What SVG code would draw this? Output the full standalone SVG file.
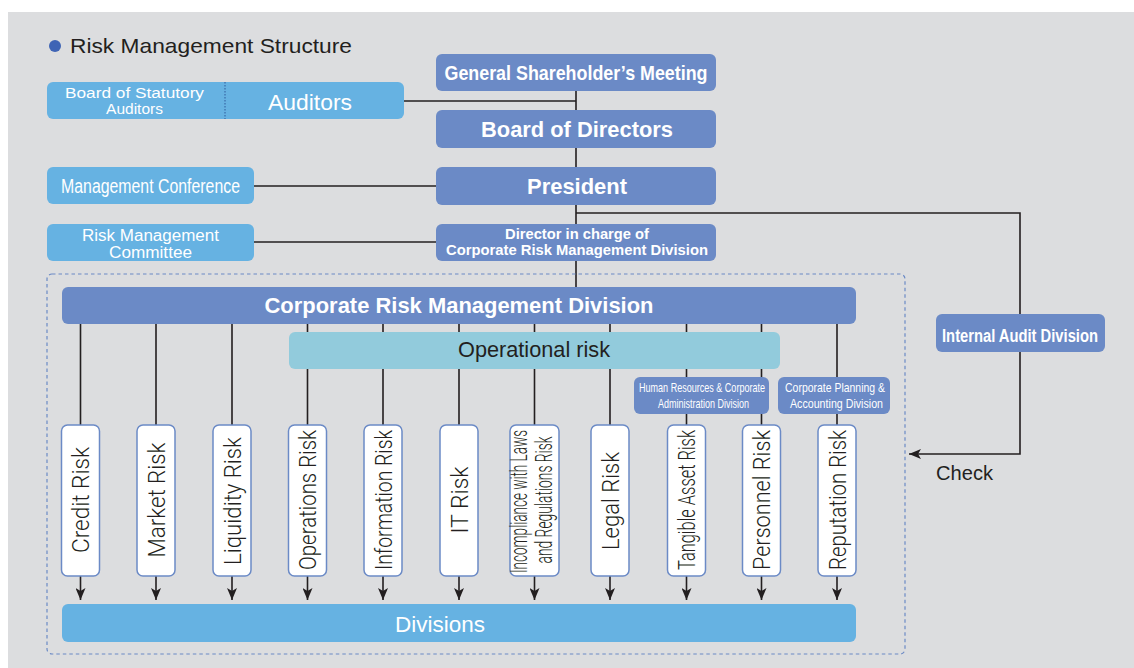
<svg xmlns="http://www.w3.org/2000/svg" width="1134" height="668" viewBox="0 0 1134 668">
<defs>
<style>
.dk{fill:#6b8ac6}
.lt{fill:#66b2e2}
.op{fill:#92cbdc}
.rb{fill:#ffffff;stroke:#6b8ac6;stroke-width:1.5}
.ln{stroke:#231f20;stroke-width:1.6;fill:none}
.ar{stroke:#231f20;stroke-width:1.6;fill:none;marker-end:url(#ah)}
.w{fill:#ffffff;font-family:"Liberation Sans",Arial,sans-serif}
.b{font-weight:bold}
.k{fill:#231f20;font-family:"Liberation Sans",Arial,sans-serif}
.v{fill:#231f20;font-family:Roboto,"Liberation Sans",Arial,sans-serif;font-weight:300;font-size:23px;text-anchor:middle}
.m{text-anchor:middle}
</style>
<marker id="ah" markerUnits="userSpaceOnUse" markerWidth="12" markerHeight="10" refX="12" refY="5" orient="auto">
<path d="M0,0 L12,5 L0,10 L3,5 z" fill="#231f20"/>
</marker>
</defs>
<rect x="0" y="0" width="1134" height="668" fill="#ffffff"/>
<rect x="8" y="12" width="1126" height="656" fill="#dcdddf"/>

<g id="title">
<circle cx="55" cy="46" r="6" fill="#3f64b5"/>
<text class="k" x="70" y="53" font-size="21" textLength="282" lengthAdjust="spacingAndGlyphs">Risk Management Structure</text>
</g>

<g id="connectors">
<path class="ln" d="M576,91 V110 M576,148 V167 M576,205 V224 M576,261 V287"/>
<path class="ln" d="M404,101 H576"/>
<path class="ln" d="M254,186 H436"/>
<path class="ln" d="M254,242 H436"/>
<path class="ln" d="M576,213 H1020 V314"/>
<path class="ar" d="M1020,352 V454 H909"/>
<path class="ln" d="M80.5,324 V425 M156,324 V425 M232,324 V425"/>
<path class="ln" d="M307.5,324 V332 M307.5,369 V425 M383,324 V332 M383,369 V425 M459,324 V332 M459,369 V425 M534.5,324 V332 M534.5,369 V425 M610,324 V332 M610,369 V425"/>
<path class="ln" d="M686.5,324 V332 M686.5,369 V377 M686.5,414 V425 M761.5,324 V332 M761.5,369 V377 M761.5,414 V425"/>
<path class="ln" d="M837,324 V377 M837,414 V425"/>
<path class="ar" d="M80.5,576 V600"/>
<path class="ar" d="M156,576 V600"/>
<path class="ar" d="M232,576 V600"/>
<path class="ar" d="M307.5,576 V600"/>
<path class="ar" d="M383,576 V600"/>
<path class="ar" d="M459,576 V600"/>
<path class="ar" d="M534.5,576 V600"/>
<path class="ar" d="M610,576 V600"/>
<path class="ar" d="M686.5,576 V600"/>
<path class="ar" d="M761.5,576 V600"/>
<path class="ar" d="M837,576 V600"/>
</g>

<g id="container">
<rect x="47" y="274" width="858" height="380" rx="5" fill="none" stroke="#6b8ac6" stroke-width="1.2" stroke-dasharray="3.5,3"/>
</g>

<g id="auditors">
<rect class="lt" x="47" y="82" width="357" height="37" rx="6"/>
<line x1="225" y1="82" x2="225" y2="119" stroke="#2f5a9a" stroke-width="1" stroke-dasharray="1.5,1.5"/>
<text class="w m" x="134.5" y="98" font-size="15.5" textLength="139" lengthAdjust="spacingAndGlyphs">Board of Statutory</text>
<text class="w m" x="134.5" y="114" font-size="15.5">Auditors</text>
<text class="w m" x="310" y="110" font-size="21.5" textLength="84" lengthAdjust="spacingAndGlyphs">Auditors</text>
</g>

<g id="gsm">
<rect class="dk" x="436" y="54" width="280" height="37" rx="6"/>
<text class="w b m" transform="translate(576,80) scale(0.893,1)" font-size="20" textLength="294.5" lengthAdjust="spacingAndGlyphs">General Shareholder’s Meeting</text>
</g>

<g id="bod">
<rect class="dk" x="436" y="110" width="280" height="38" rx="6"/>
<text class="w b m" x="577" y="137" font-size="22" textLength="192" lengthAdjust="spacingAndGlyphs">Board of Directors</text>
</g>

<g id="president">
<rect class="dk" x="436" y="167" width="280" height="38" rx="6"/>
<text class="w b m" x="577" y="194" font-size="22" textLength="100" lengthAdjust="spacingAndGlyphs">President</text>
</g>

<g id="director">
<rect class="dk" x="436" y="224" width="280" height="37" rx="6"/>
<text class="w b m" x="577" y="239" font-size="15" textLength="144" lengthAdjust="spacingAndGlyphs">Director in charge of</text>
<text class="w b m" x="577" y="255" font-size="15" textLength="262" lengthAdjust="spacingAndGlyphs">Corporate Risk Management Division</text>
</g>

<g id="mgmt-conf">
<rect class="lt" x="47" y="167" width="207" height="37" rx="6"/>
<text class="w m" transform="translate(150.5,193) scale(0.755,1)" font-size="21" textLength="237" lengthAdjust="spacingAndGlyphs">Management Conference</text>
</g>

<g id="risk-committee">
<rect class="lt" x="47" y="224" width="207" height="37" rx="6"/>
<text class="w m" x="150.5" y="241" font-size="16" textLength="137" lengthAdjust="spacingAndGlyphs">Risk Management</text>
<text class="w m" x="150.5" y="258" font-size="16" textLength="83" lengthAdjust="spacingAndGlyphs">Committee</text>
</g>

<g id="internal-audit">
<rect class="dk" x="936" y="314" width="169" height="38" rx="6"/>
<text class="w b m" transform="translate(1020,342) scale(0.774,1)" font-size="19" textLength="201.5" lengthAdjust="spacingAndGlyphs">Internal Audit Division</text>
</g>

<g id="check">
<text class="k" x="936" y="480" font-size="20" textLength="57" lengthAdjust="spacingAndGlyphs">Check</text>
</g>

<g id="crmd">
<rect class="dk" x="62" y="287" width="794" height="37" rx="6"/>
<text class="w b m" x="459" y="313" font-size="22" textLength="389" lengthAdjust="spacingAndGlyphs">Corporate Risk Management Division</text>
</g>

<g id="operational">
<rect class="op" x="289" y="332" width="491" height="37" rx="6"/>
<text class="k m" x="534" y="357" font-size="21.5" textLength="152" lengthAdjust="spacingAndGlyphs">Operational risk</text>
</g>

<g id="hr">
<rect class="dk" x="634" y="377" width="135" height="37" rx="6"/>
<text class="w m" transform="translate(702,392) scale(0.696,1)" font-size="13" textLength="181" lengthAdjust="spacingAndGlyphs">Human Resources &amp; Corporate</text>
<text class="w m" transform="translate(703.5,408) scale(0.692,1)" font-size="13" textLength="131.5" lengthAdjust="spacingAndGlyphs">Administration Division</text>
</g>

<g id="cp">
<rect class="dk" x="778" y="377" width="112" height="37" rx="6"/>
<text class="w m" transform="translate(835,392) scale(0.806,1)" font-size="13" textLength="124" lengthAdjust="spacingAndGlyphs">Corporate Planning &amp;</text>
<text class="w m" transform="translate(836.5,408) scale(0.82,1)" font-size="13" textLength="113.4" lengthAdjust="spacingAndGlyphs">Accounting Division</text>
</g>

<g id="credit-risk">
<rect class="rb" x="61.5" y="425" width="38" height="151" rx="6"/>
<text class="v" transform="translate(89,500) rotate(-90)" textLength="106" lengthAdjust="spacingAndGlyphs">Credit Risk</text>
</g>
<g id="market-risk">
<rect class="rb" x="137" y="425" width="38" height="151" rx="6"/>
<text class="v" transform="translate(164.5,500) rotate(-90)" textLength="115" lengthAdjust="spacingAndGlyphs">Market Risk</text>
</g>
<g id="liquidity-risk">
<rect class="rb" x="213" y="425" width="38" height="151" rx="6"/>
<text class="v" transform="translate(240.5,501) rotate(-90)" textLength="128" lengthAdjust="spacingAndGlyphs">Liquidity Risk</text>
</g>
<g id="operations-risk">
<rect class="rb" x="288.5" y="425" width="38" height="151" rx="6"/>
<text class="v" transform="translate(316,500) rotate(-90)" textLength="140" lengthAdjust="spacingAndGlyphs">Operations Risk</text>
</g>
<g id="information-risk">
<rect class="rb" x="364" y="425" width="38" height="151" rx="6"/>
<text class="v" transform="translate(391.5,500) rotate(-90)" textLength="140" lengthAdjust="spacingAndGlyphs">Information Risk</text>
</g>
<g id="it-risk">
<rect class="rb" x="440" y="425" width="38" height="151" rx="6"/>
<text class="v" transform="translate(467.5,500) rotate(-90)" textLength="67" lengthAdjust="spacingAndGlyphs">IT Risk</text>
</g>
<g id="incompliance-risk">
<rect class="rb" x="510" y="425" width="49" height="151" rx="6"/>
<text class="v" font-size="17" transform="translate(526.5,501.5) rotate(-90)" textLength="143" lengthAdjust="spacingAndGlyphs">Incompliance with Laws</text>
<text class="v" font-size="17" transform="translate(551.5,500) rotate(-90)" textLength="127" lengthAdjust="spacingAndGlyphs">and Regulations Risk</text>
</g>
<g id="legal-risk">
<rect class="rb" x="591" y="425" width="38" height="151" rx="6"/>
<text class="v" transform="translate(618.5,501) rotate(-90)" textLength="98" lengthAdjust="spacingAndGlyphs">Legal Risk</text>
</g>
<g id="tangible-risk">
<rect class="rb" x="667.5" y="425" width="38" height="151" rx="6"/>
<text class="v" transform="translate(695,500) rotate(-90)" textLength="140" lengthAdjust="spacingAndGlyphs">Tangible Asset Risk</text>
</g>
<g id="personnel-risk">
<rect class="rb" x="742.5" y="425" width="38" height="151" rx="6"/>
<text class="v" transform="translate(770,500) rotate(-90)" textLength="140" lengthAdjust="spacingAndGlyphs">Personnel Risk</text>
</g>
<g id="reputation-risk">
<rect class="rb" x="818" y="425" width="38" height="151" rx="6"/>
<text class="v" transform="translate(845.5,500) rotate(-90)" textLength="140" lengthAdjust="spacingAndGlyphs">Reputation Risk</text>
</g>

<g id="divisions">
<rect class="lt" x="62" y="604" width="794" height="38" rx="6"/>
<text class="w m" x="440" y="632" font-size="21.5" textLength="90" lengthAdjust="spacingAndGlyphs">Divisions</text>
</g>
</svg>
